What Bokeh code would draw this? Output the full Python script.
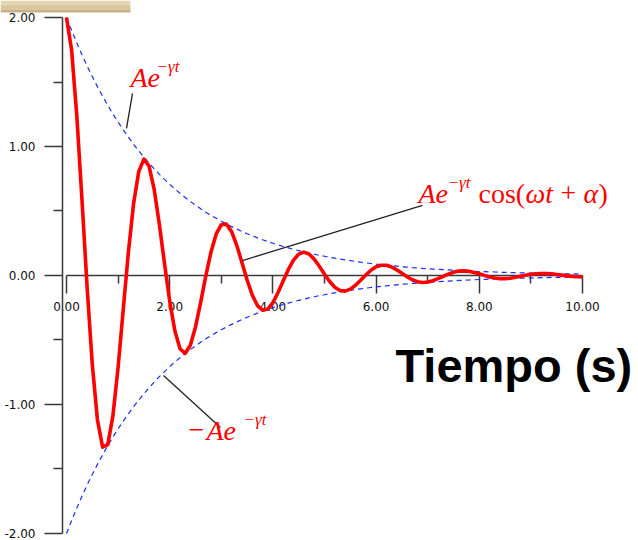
from bokeh.plotting import figure
from bokeh.models import (Range1d, LinearAxis, FixedTicker, PrintfTickFormatter,
                          Label, BoxAnnotation, ColumnDataSource)
from bokeh.embed import file_html
from bokeh.resources import INLINE

# Sample instants (s), every 0.1 s from 0 to 10
time_s = [i / 10 for i in range(101)]

# Damped oscillation A e^(-gamma t) cos(omega t + alpha)
displacement = [
    2.000, 1.744, 1.238, 0.586, -0.093, -0.690, -1.120, -1.331, -1.311, -1.086,
    -0.712, -0.263, 0.183, 0.556, 0.805, 0.902, 0.848, 0.665, 0.395, 0.090,
    -0.199, -0.429, -0.568, -0.604, -0.541, -0.399, -0.208, -0.003, 0.182, 0.320,
    0.394, 0.398, 0.340, 0.233, 0.101, -0.035, -0.151, -0.233, -0.269, -0.260,
    -0.210, -0.132, -0.041, 0.047, 0.119, 0.166, 0.181, 0.167, 0.127, 0.072,
    0.010, -0.047, -0.091, -0.116, -0.121, -0.106, -0.076, -0.037, 0.004, 0.041,
    0.067, 0.080, 0.079, 0.066, 0.044, 0.017, -0.010, -0.033, -0.048, -0.054,
    -0.051, -0.040, -0.024, -0.006, 0.011, 0.025, 0.034, 0.036, 0.033, 0.024,
    0.013, 0.001, -0.011, -0.019, -0.024, -0.024, -0.021, -0.014, -0.006, 0.002,
    0.009, 0.014, 0.016, 0.016, 0.013, 0.008, 0.003, -0.003, -0.007, -0.010,
    -0.011,
]

# Envelope A e^(-gamma t)
envelope = [
    2.000, 1.899, 1.802, 1.711, 1.624, 1.542, 1.464, 1.390, 1.319, 1.252,
    1.189, 1.129, 1.072, 1.017, 0.966, 0.917, 0.870, 0.826, 0.784, 0.745,
    0.707, 0.671, 0.637, 0.605, 0.574, 0.545, 0.517, 0.491, 0.466, 0.443,
    0.420, 0.399, 0.379, 0.360, 0.341, 0.324, 0.308, 0.292, 0.277, 0.263,
    0.250, 0.237, 0.225, 0.214, 0.203, 0.193, 0.183, 0.174, 0.165, 0.156,
    0.149, 0.141, 0.134, 0.127, 0.121, 0.115, 0.109, 0.103, 0.098, 0.093,
    0.088, 0.084, 0.080, 0.076, 0.072, 0.068, 0.065, 0.061, 0.058, 0.055,
    0.053, 0.050, 0.047, 0.045, 0.043, 0.041, 0.038, 0.037, 0.035, 0.033,
    0.031, 0.030, 0.028, 0.027, 0.025, 0.024, 0.023, 0.022, 0.021, 0.020,
    0.019, 0.018, 0.017, 0.016, 0.015, 0.014, 0.014, 0.013, 0.012, 0.012,
    0.011,
]
lower_envelope = [-v for v in envelope]

x_ticks = [0, 2, 4, 6, 8, 10]
x_minor = [1, 3, 5, 7, 9]
y_ticks = [-2, -1, 0, 1, 2]
y_minor = [-1.5, -0.5, 0.5, 1.5]

# Leader lines from the formula labels to the curves (data coordinates)
leader_x0 = [1.163, 3.411, 1.880]
leader_y0 = [1.140, 0.116, -0.775]
leader_x1 = [1.279, 6.899, 2.984]
leader_y1 = [1.411, 0.543, -1.178]

W, H = 638, 540
p = figure(width=W, height=H,
           x_range=Range1d(-1.2791, 11.0853), y_range=Range1d(-2.0543, 2.1318),
           x_axis_type=None, y_axis_type=None,
           output_backend="svg", toolbar_location=None, min_border=0)
p.outline_line_color = None
p.background_fill_color = "white"
p.border_fill_color = "white"

AX = "#3a3a3a"
xaxis = LinearAxis(fixed_location=0, bounds=(0, 10),
                   ticker=FixedTicker(ticks=x_ticks, minor_ticks=x_minor),
                   formatter=PrintfTickFormatter(format="%.2f"))
yaxis = LinearAxis(fixed_location=-0.0775, bounds=(-2, 2),
                   ticker=FixedTicker(ticks=y_ticks, minor_ticks=y_minor),
                   formatter=PrintfTickFormatter(format="%.2f"))
for ax, minor_len, standoff in ((xaxis, 8, 9), (yaxis, 9, 9)):
    ax.axis_line_color = AX
    ax.axis_line_width = 1.5
    ax.major_tick_line_color = AX
    ax.minor_tick_line_color = AX
    ax.major_tick_line_width = 1.5
    ax.minor_tick_line_width = 1.5
    ax.major_tick_in = 0
    ax.major_tick_out = 18
    ax.minor_tick_in = 0
    ax.minor_tick_out = minor_len
    ax.major_label_standoff = standoff
    ax.major_label_text_font = "DejaVu Sans"
    ax.major_label_text_font_size = "12px"
    ax.major_label_text_color = "#111111"
    ax.level = "underlay"
p.add_layout(xaxis, "below")
p.add_layout(yaxis, "left")

# strip along the top-left corner
for top, bottom, color in ((540, 536, "#E4D6B2"), (536, 531, "#D9C79E"), (531, 528, "#C6B084")):
    p.add_layout(BoxAnnotation(left=0, right=130, top=top, bottom=bottom,
                               left_units="screen", right_units="screen",
                               top_units="screen", bottom_units="screen",
                               fill_color=color, fill_alpha=1, line_color=None,
                               level="underlay"))

src = ColumnDataSource(dict(t=time_s, y=displacement, up=envelope, lo=lower_envelope))
p.line("t", "up", source=src, line_color="#1a2bff", line_width=1.2, line_dash="5 4")
p.line("t", "lo", source=src, line_color="#1a2bff", line_width=1.2, line_dash="5 4")
p.line("t", "y", source=src, line_color="#ff0000", line_width=3.6, line_join="round")

p.segment(x0=leader_x0, y0=leader_y0, x1=leader_x1, y1=leader_y1,
          line_color="#222222", line_width=1.3)


def txt(s, x, y, size, italic=True, font="Liberation Serif", color="#ff0000", bold=False):
    """Place text with its baseline at pixel row y (measured from the top)."""
    style = "bold" if bold else ("italic" if italic else "normal")
    p.add_layout(Label(x=x, y=H - y + 0.36 * size, x_units="screen", y_units="screen", text=s,
                       text_font=font, text_font_style=style, text_font_size=f"{size}px",
                       text_color=color, text_baseline="alphabetic", text_align="left"))


# upper envelope label
txt("Ae", 130, 87, 28)
txt("\u2212\u03b3t", 156, 72, 17)

# curve label
txt("Ae", 418, 203, 28)
txt("\u2212\u03b3t", 447, 188, 17)
txt("cos(", 478, 203, 28, italic=False)
txt("\u03c9t", 525, 203, 28)
txt("+", 560, 203, 28, italic=False)
txt("\u03b1", 583, 203, 28)
txt(")", 598, 203, 28, italic=False)

# lower envelope label
txt("\u2212", 188, 440, 28, italic=False)
txt("Ae", 206, 440, 28)
txt("\u2212\u03b3t", 243, 425, 17)

# axis title
txt("Tiempo (s)", 395, 382, 47, font="Liberation Sans", color="black", bold=True)

open("out.html", "w").write(file_html(p, INLINE))
